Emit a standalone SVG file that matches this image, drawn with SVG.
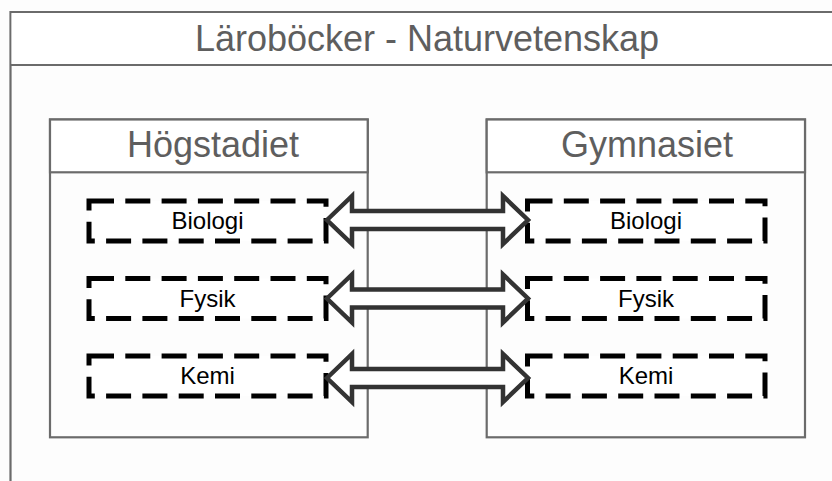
<svg xmlns="http://www.w3.org/2000/svg" width="832" height="481" viewBox="0 0 832 481">
  <style>
    .frame { fill: none; stroke: #6b6b6b; stroke-width: 2.2; }
    .box { fill: #fdfdfd; stroke: #6b6b6b; stroke-width: 2.2; }
    .head { fill: #ffffff; stroke: #6b6b6b; stroke-width: 2.2; }
    .title { font-family: "Liberation Sans", Arial, sans-serif; font-size: 36px; fill: #5e5e5e; text-anchor: middle; }
    .subject { fill: #ffffff; stroke: #000000; stroke-width: 5; stroke-dasharray: 25 11.3; }
    .label { font-family: "Liberation Sans", Arial, sans-serif; font-size: 24px; fill: #000000; text-anchor: middle; }
    .link { fill: #ffffff; stroke: #333333; stroke-width: 4.5; stroke-linejoin: miter; }
  </style>
  <rect width="832" height="481" fill="#fdfdfd"/>

  <!-- outer container -->
  <g id="container">
    <path class="frame" d="M10.5 481 V12 H832"/>
    <rect x="11.6" y="13.1" width="821" height="50.8" fill="#ffffff"/>
    <path class="frame" d="M10.5 65 H832"/>
    <text class="title" x="427" y="50.5">Läroböcker - Naturvetenskap</text>
  </g>

  <!-- lower secondary school column -->
  <g id="hogstadiet">
    <rect class="box" x="50" y="119.5" width="317.7" height="317.8"/>
    <rect class="head" x="50" y="119.5" width="317.7" height="52.8"/>
    <text class="title" x="213" y="157">Högstadiet</text>
  </g>

  <!-- upper secondary school column -->
  <g id="gymnasiet">
    <rect class="box" x="486.7" y="119.5" width="318.3" height="317.8"/>
    <rect class="head" x="486.7" y="119.5" width="318.3" height="52.8"/>
    <text class="title" x="647" y="157">Gymnasiet</text>
  </g>

  <!-- subjects, left column -->
  <g id="h-biologi">
    <rect class="subject" x="89" y="201" width="237" height="40"/>
    <text class="label" x="207.5" y="229">Biologi</text>
  </g>
  <g id="h-fysik">
    <rect class="subject" x="89" y="278.5" width="237" height="40"/>
    <text class="label" x="207.5" y="306.5">Fysik</text>
  </g>
  <g id="h-kemi">
    <rect class="subject" x="89" y="356" width="237" height="40"/>
    <text class="label" x="207.5" y="384">Kemi</text>
  </g>

  <!-- subjects, right column -->
  <g id="g-biologi">
    <rect class="subject" x="527.5" y="201" width="237.5" height="40"/>
    <text class="label" x="646" y="229">Biologi</text>
  </g>
  <g id="g-fysik">
    <rect class="subject" x="527.5" y="278.5" width="237.5" height="40"/>
    <text class="label" x="646" y="306.5">Fysik</text>
  </g>
  <g id="g-kemi">
    <rect class="subject" x="527.5" y="356" width="237.5" height="40"/>
    <text class="label" x="646" y="384">Kemi</text>
  </g>

  <!-- two-way block arrows between matching subjects -->
  <g id="connectors">
    <path class="link" d="M327 220 L352 196 V211 H503 V196 L528 220 L503 244 V229 H352 V244 Z"/>
    <path class="link" d="M327 298.5 L352 274.5 V289.5 H503 V274.5 L528 298.5 L503 322.5 V307.5 H352 V322.5 Z"/>
    <path class="link" d="M327 378 L352 354 V369 H503 V354 L528 378 L503 402 V387 H352 V402 Z"/>
  </g>
</svg>
